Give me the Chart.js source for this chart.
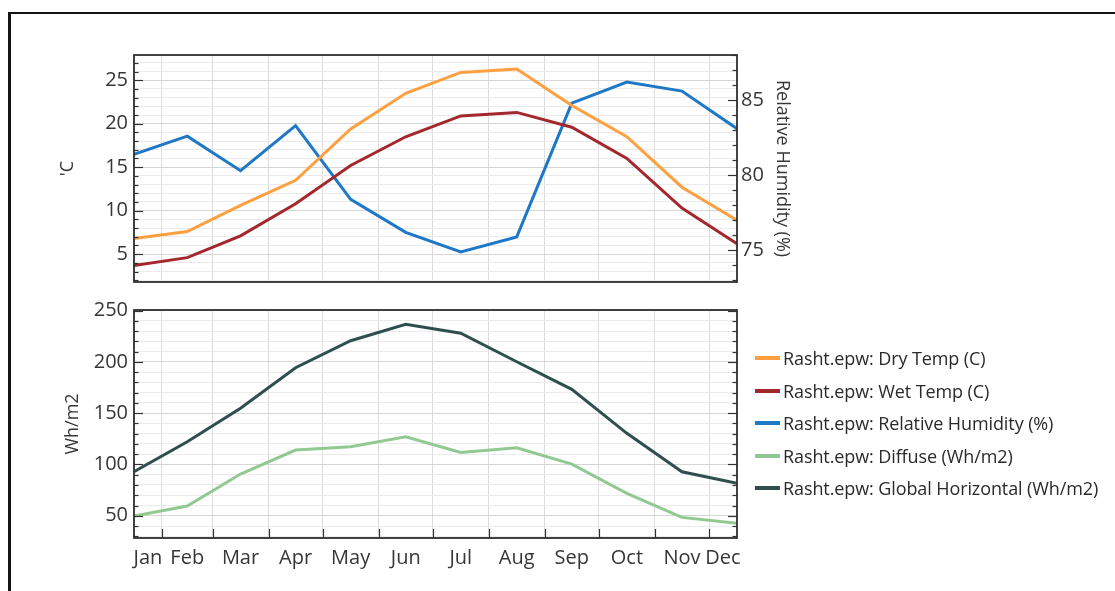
<!DOCTYPE html>
<html>
<head>
<meta charset="utf-8">
<script src="https://cdn.jsdelivr.net/npm/chart.js@4.4.1/dist/chart.umd.min.js"></script>
<style>
  html, body { margin: 0; padding: 0; background: #fff; width: 1115px; height: 591px; overflow: hidden; }
  #frame { position: absolute; left: 8px; top: 12px; width: 1200px; height: 700px;
           border-top: 2px solid #141414; border-left: 3px solid #141414; }
  .holder { position: absolute; left: 0; }
  #legend { position: absolute; left: 755px; top: 342px; font-family: 'Open Sans', sans-serif;
            font-size: 18px; color: #2a2a2a; letter-spacing: -0.1px; }
  .row { height: 32.5px; display: flex; align-items: center; white-space: nowrap; }
  .sw { width: 25px; height: 4px; margin-right: 3px; }
</style>
</head>
<body>
<div id="frame"></div>
<div class="holder" style="top:0"><canvas id="climate" width="820" height="300"></canvas></div>
<div class="holder" style="top:290px"><canvas id="solar" width="820" height="301"></canvas></div>
<div id="legend"></div>

<script>
// Monthly climate summary for Rasht
const months = ['Jan', 'Feb', 'Mar', 'Apr', 'May', 'Jun', 'Jul', 'Aug', 'Sep', 'Oct', 'Nov', 'Dec'];
const monthMidDays = [15.5, 45, 74.5, 105, 135.5, 166, 196.5, 227.5, 258, 288.5, 319, 349.5];
const monthStartDays = [0, 31, 59, 90, 120, 151, 181, 212, 243, 273, 304, 334, 365];

const dryTemp     = [6.8, 7.6, 10.6, 13.5, 19.4, 23.5, 25.9, 26.3, 22.1, 18.5, 12.7, 8.9];
const wetTemp     = [3.7, 4.6, 7.1, 10.8, 15.2, 18.5, 20.9, 21.3, 19.6, 16.0, 10.3, 6.2];
const relHumidity = [81.4, 82.6, 80.3, 83.3, 78.4, 76.2, 74.9, 75.9, 84.8, 86.2, 85.6, 83.1];
const diffuse     = [49.7, 59.5, 90.7, 114.1, 117.3, 127.0, 111.8, 116.3, 100.4, 71.9, 48.4, 42.6];
const globalHoriz = [92.9, 122.2, 154.8, 194.4, 220.7, 236.7, 228.0, 200.2, 173.3, 130.4, 92.9, 81.6];

const tempTicks  = [5, 10, 15, 20, 25];
const rhTicks    = [75, 80, 85];
const solarTicks = [50, 100, 150, 200, 250];

const seriesNames = [
  'Rasht.epw: Dry Temp (C)',
  'Rasht.epw: Wet Temp (C)',
  'Rasht.epw: Relative Humidity (%)',
  'Rasht.epw: Diffuse (Wh/m2)',
  'Rasht.epw: Global Horizontal (Wh/m2)'
];
const seriesColors = ['#FFA040', '#A3282D', '#1E78C8', '#92C992', '#2F4F4F'];

const X_MIN = monthMidDays[0];
const X_MAX = monthMidDays[monthMidDays.length - 1];
const FONT = 'Open Sans';
const TEXT = '#363636';

const points = vals => vals.map((v, i) => ({ x: monthMidDays[i], y: v }));
const range = (a, b, step) => { const r = []; for (let v = a; v <= b + 1e-9; v += step) r.push(+v.toFixed(6)); return r; };
const innerStarts = monthStartDays.filter(d => d > X_MIN && d < X_MAX);

// month names sit in the middle of each month's visible span
const labelPos = months.map((m, i) => {
  const a = Math.max(monthStartDays[i], X_MIN), b = Math.min(monthStartDays[i + 1], X_MAX);
  return { value: (a + b) / 2, name: m };
});

function lineSet(label, vals, color, axis) {
  return { label, data: points(vals), borderColor: color, backgroundColor: color,
           borderWidth: 3, pointRadius: 0, tension: 0, yAxisID: axis };
}

// plot frame plus short tick marks pointing into the plot
function framePlugin(specs) {
  return {
    id: 'frameTicks',
    afterDatasetsDraw(chart) {
      const { ctx, chartArea: a } = chart;
      ctx.save();
      ctx.strokeStyle = '#333';
      ctx.lineWidth = 1.2;
      for (const sp of specs) {
        const s = chart.scales[sp.axis];
        const vals = sp.values || s.ticks.map(t => t.value);
        for (const v of vals) {
          const p = Math.round(s.getPixelForValue(v)) + 0.5;
          const len = (!sp.major || sp.major.includes(v)) ? 9 : 4.5;
          ctx.beginPath();
          if (sp.side === 'left')   { ctx.moveTo(a.left, p);  ctx.lineTo(a.left + len, p); }
          if (sp.side === 'right')  { ctx.moveTo(a.right, p); ctx.lineTo(a.right - len, p); }
          if (sp.side === 'bottom') { ctx.moveTo(p, a.bottom); ctx.lineTo(p, a.bottom - len); }
          ctx.stroke();
        }
      }
      ctx.lineWidth = 1.8;
      ctx.strokeStyle = '#2e2e2e';
      ctx.strokeRect(a.left, a.top, a.right - a.left, a.bottom - a.top);
      ctx.restore();
    }
  };
}

const tickFont = { family: FONT, size: 20 };
const titleFont = { family: FONT, size: 18 };
const gridY = (major) => ({
  color: c => major.includes(c.tick && c.tick.value) ? '#d6d6d6' : '#ebebeb',
  drawTicks: false, lineWidth: 1
});
const gridX = { color: '#dedede', drawTicks: false, lineWidth: 1 };

// ---- upper panel: temperatures and humidity ----
new Chart(document.getElementById('climate'), {
  type: 'line',
  data: { datasets: [
    lineSet(seriesNames[0], dryTemp, seriesColors[0], 'y'),
    lineSet(seriesNames[1], wetTemp, seriesColors[1], 'y'),
    lineSet(seriesNames[2], relHumidity, seriesColors[2], 'y2')
  ] },
  options: {
    responsive: false, animation: false, events: [],
    layout: { padding: { top: 55, left: 0, right: 0, bottom: 0 } },
    plugins: { legend: { display: false }, tooltip: { enabled: false } },
    scales: {
      x: {
        type: 'linear', min: X_MIN, max: X_MAX,
        afterBuildTicks: s => { s.ticks = innerStarts.map(v => ({ value: v })); },
        ticks: { display: false },
        grid: gridX, border: { display: false },
        afterFit: s => { s.height = 18; }
      },
      y: {
        position: 'left', min: 1.8, max: 27.9,
        afterBuildTicks: s => { s.ticks = range(2, 27, 1).map(v => ({ value: v })); },
        ticks: { autoSkip: false, padding: 6, font: tickFont, color: TEXT,
                 callback: v => tempTicks.includes(v) ? String(v) : '' },
        grid: gridY(tempTicks), border: { display: false },
        title: { display: true, text: "'C", font: titleFont, color: TEXT, padding: { top: 57, bottom: 0 } },
        afterFit: s => { s.width = 134; }
      },
      y2: {
        position: 'right', min: 72.9, max: 88,
        afterBuildTicks: s => { s.ticks = range(73, 88, 1).map(v => ({ value: v })); },
        ticks: { autoSkip: false, padding: 4, font: tickFont, color: TEXT,
                 callback: v => rhTicks.includes(v) ? String(v) : '' },
        grid: { drawOnChartArea: false, drawTicks: false }, border: { display: false },
        title: { display: true, text: 'Relative Humidity (%)', font: titleFont, color: TEXT, padding: { top: 27, bottom: 0 } },
        afterFit: s => { s.width = 820 - 737; }
      }
    }
  },
  plugins: [framePlugin([
    { axis: 'y', side: 'left', major: tempTicks },
    { axis: 'y2', side: 'right', major: rhTicks }
  ])]
});

// ---- lower panel: solar radiation ----
const labelValues = labelPos.map(l => l.value);
new Chart(document.getElementById('solar'), {
  type: 'line',
  data: { datasets: [
    lineSet(seriesNames[3], diffuse, seriesColors[3], 'y'),
    lineSet(seriesNames[4], globalHoriz, seriesColors[4], 'y')
  ] },
  options: {
    responsive: false, animation: false, events: [],
    layout: { padding: { top: 20, left: 0, right: 820 - 737, bottom: 0 } },
    plugins: { legend: { display: false }, tooltip: { enabled: false } },
    scales: {
      x: {
        type: 'linear', min: X_MIN, max: X_MAX,
        afterBuildTicks: s => {
          s.ticks = innerStarts.map(v => ({ value: v }))
            .concat(labelPos.map(l => ({ value: l.value })))
            .sort((p, q) => p.value - q.value);
        },
        ticks: { autoSkip: false, maxRotation: 0, minRotation: 0, padding: 8, font: tickFont, color: TEXT,
                 callback: v => { const l = labelPos.find(p => Math.abs(p.value - v) < 1e-6); return l ? l.name : ''; } },
        grid: { color: c => labelValues.some(v => c.tick && Math.abs(v - c.tick.value) < 1e-6) ? 'rgba(0,0,0,0)' : '#dedede',
                drawTicks: false, lineWidth: 1 },
        border: { display: false },
        afterFit: s => { s.height = 591 - 290 - (538 - 290); }
      },
      y: {
        position: 'left', min: 28.3, max: 250.7,
        afterBuildTicks: s => { s.ticks = range(30, 250, 10).map(v => ({ value: v })); },
        ticks: { autoSkip: false, padding: 6, font: tickFont, color: TEXT,
                 callback: v => solarTicks.includes(v) ? String(v) : '' },
        grid: gridY(solarTicks), border: { display: false },
        title: { display: true, text: 'Wh/m2', font: titleFont, color: TEXT, padding: { top: 62, bottom: 0 } },
        afterFit: s => { s.width = 134; }
      }
    }
  },
  plugins: [framePlugin([
    { axis: 'y', side: 'left', major: solarTicks },
    { axis: 'y', side: 'right', major: solarTicks },
    { axis: 'x', side: 'bottom', values: innerStarts }
  ])]
});

// ---- shared legend ----
const legend = document.getElementById('legend');
seriesNames.forEach((name, i) => {
  const row = document.createElement('div');
  row.className = 'row';
  const sw = document.createElement('span');
  sw.className = 'sw';
  sw.style.background = seriesColors[i];
  const txt = document.createElement('span');
  txt.textContent = name;
  row.appendChild(sw);
  row.appendChild(txt);
  legend.appendChild(row);
});
</script>
</body>
</html>
